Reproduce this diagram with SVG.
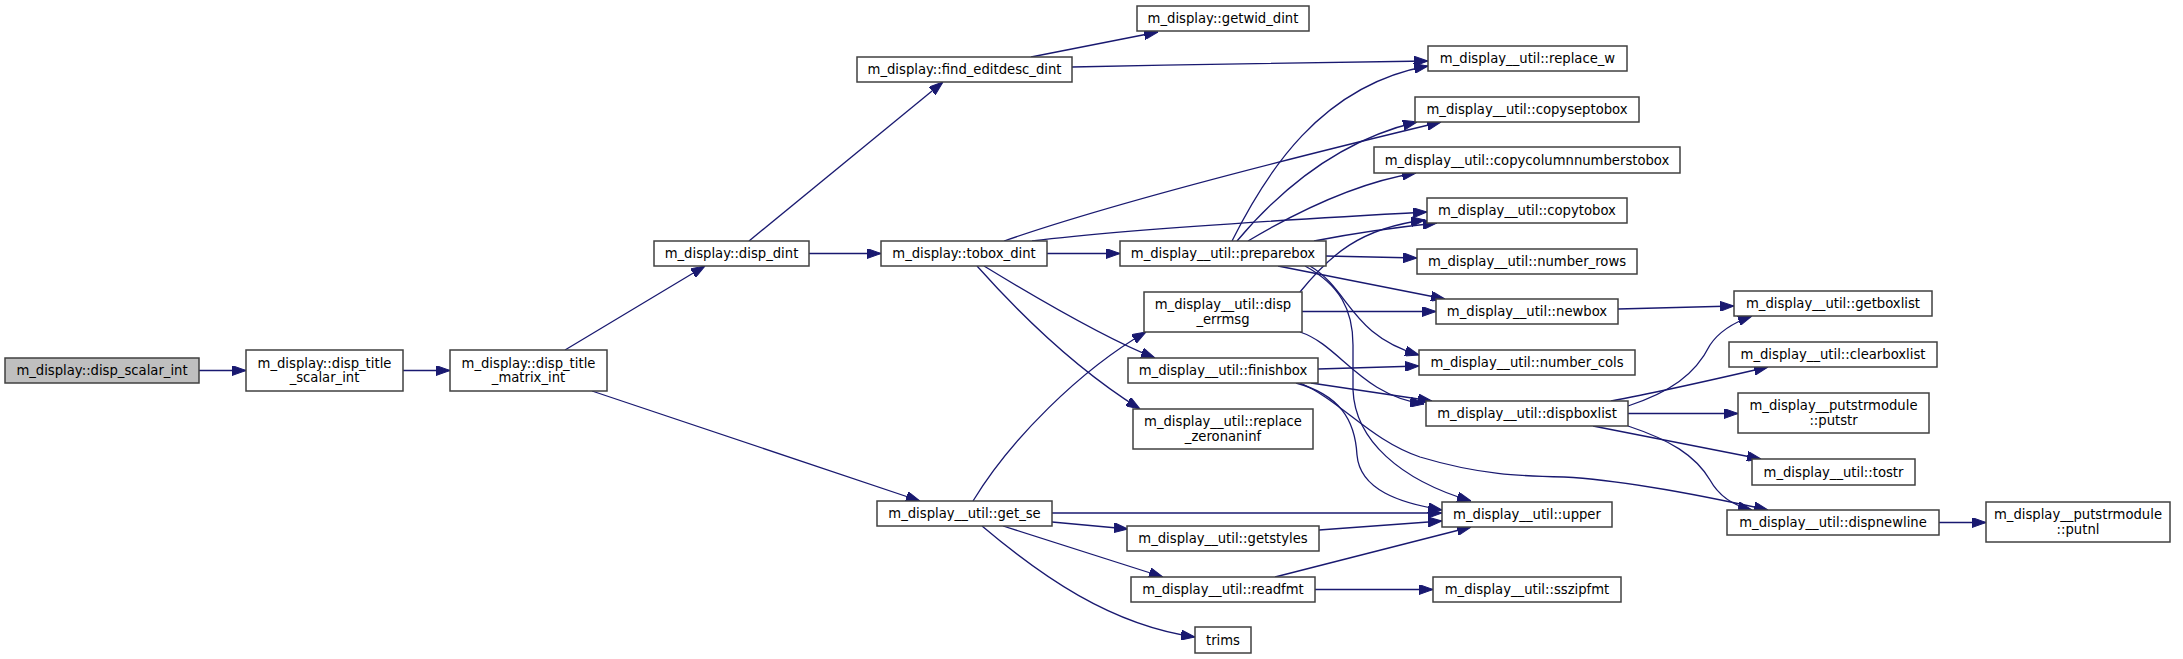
<svg xmlns="http://www.w3.org/2000/svg" width="2183" height="659" viewBox="0 0 2183 659">
<style>
.n rect{fill:#ffffff;stroke:#404040;stroke-width:1.5}
.n.root rect{fill:#bfbfbf}
.n text{font-family:"DejaVu Sans",sans-serif;font-size:13.2px;fill:#000;text-anchor:middle}
.e path{fill:none;stroke:#191970;stroke-width:1.3;marker-end:url(#ah)}
</style>
<defs>
<marker id="ah" markerUnits="userSpaceOnUse" markerWidth="14" markerHeight="10" refX="14" refY="5" orient="auto" viewBox="0 0 14 10">
<path d="M0,0 L14,5 L0,10 z" fill="#191970" stroke="#191970" stroke-width="1"/>
</marker>
</defs>
<rect width="2183" height="659" fill="#ffffff"/>
<g id="connectors" class="e">
<path d="M199,370.5 L246,370.5"/>
<path d="M403,370.5 L450,370.5"/>
<path d="M565,350 L705,266"/>
<path d="M592,391 L920,501"/>
<path d="M749,241 L943,82"/>
<path d="M809,253.5 L881,253.5"/>
<path d="M1031,57 L1158,32"/>
<path d="M1072,67 C1200,64 1350,62 1428,61"/>
<path d="M1047,253.5 L1120,253.5"/>
<path d="M1004,241 Q1133,196 1441,122"/>
<path d="M1032,241 Q1134,228 1427,212"/>
<path d="M984,266 Q1099,336 1155,358"/>
<path d="M977,266 Q1060,359 1140,409"/>
<path d="M1232,241 C1265,175 1320,85 1428,66"/>
<path d="M1237,241 C1280,190 1340,140 1417,122"/>
<path d="M1248,241 C1300,210 1360,182 1416,173"/>
<path d="M1314,241 Q1370,230 1437,223"/>
<path d="M1326,256 L1417,258"/>
<path d="M1278,266 L1445,299"/>
<path d="M1310,266 C1350,290 1350,335 1419,355"/>
<path d="M1305,266 C1340,285 1353,310 1353,345 L1353,390 C1355,440 1400,480 1471,501"/>
<path d="M1300,292 C1330,255 1360,228 1425,220"/>
<path d="M1302,311.5 L1436,311.5"/>
<path d="M1300,332 C1340,345 1360,395 1424,404"/>
<path d="M973,501 C1010,440 1080,370 1146,332"/>
<path d="M1318,369 L1419,366"/>
<path d="M1311,383 L1432,401"/>
<path d="M1296,383 C1340,395 1355,420 1357,455 C1360,490 1400,503 1442,510"/>
<path d="M1300,383 C1340,400 1370,440 1420,457 C1480,475 1520,476 1564,477 C1620,480 1700,495 1768,510"/>
<path d="M1052,513 L1442,513"/>
<path d="M1052,522 L1128,529"/>
<path d="M1003,526 L1163,577"/>
<path d="M982,526 C1040,575 1110,625 1195,637"/>
<path d="M1319,530 L1442,521"/>
<path d="M1275,577 L1471,527"/>
<path d="M1315,589.5 L1433,589.5"/>
<path d="M1618,309 L1734,306"/>
<path d="M1628,406 C1670,392 1695,375 1710,345 C1720,330 1735,322 1752,316"/>
<path d="M1611,401 Q1660,392 1768,367"/>
<path d="M1628,413.5 L1738,413.5"/>
<path d="M1593,426 L1761,459"/>
<path d="M1628,426 C1670,440 1695,455 1710,480 C1720,498 1735,506 1752,510"/>
<path d="M1939,522.5 L1986,522.5"/>
</g>
<g id="disp_scalar_int" class="n root"><rect x="5" y="358" width="194" height="25"/><text x="102" y="375">m_display::disp_scalar_int</text></g>
<g id="disp_title_scalar_int" class="n"><rect x="246" y="350" width="157" height="41"/><text x="324.5" y="367.5">m_display::disp_title</text><text x="324.5" y="382">_scalar_int</text></g>
<g id="disp_title_matrix_int" class="n"><rect x="450" y="350" width="157" height="41"/><text x="528.5" y="367.5">m_display::disp_title</text><text x="528.5" y="382">_matrix_int</text></g>
<g id="disp_dint" class="n"><rect x="654" y="241" width="155" height="25"/><text x="731.5" y="258">m_display::disp_dint</text></g>
<g id="find_editdesc_dint" class="n"><rect x="857" y="57" width="215" height="25"/><text x="964.5" y="74">m_display::find_editdesc_dint</text></g>
<g id="getwid_dint" class="n"><rect x="1137" y="6" width="172" height="25"/><text x="1223" y="23">m_display::getwid_dint</text></g>
<g id="tobox_dint" class="n"><rect x="881" y="241" width="166" height="25"/><text x="964" y="258">m_display::tobox_dint</text></g>
<g id="preparebox" class="n"><rect x="1120" y="241" width="206" height="25"/><text x="1223" y="258">m_display__util::preparebox</text></g>
<g id="replace_w" class="n"><rect x="1428" y="46" width="199" height="25"/><text x="1527.5" y="63">m_display__util::replace_w</text></g>
<g id="copyseptobox" class="n"><rect x="1415" y="97" width="224" height="25"/><text x="1527" y="114">m_display__util::copyseptobox</text></g>
<g id="copycolumnnumberstobox" class="n"><rect x="1374" y="147" width="306" height="26"/><text x="1527" y="164.5">m_display__util::copycolumnnumberstobox</text></g>
<g id="copytobox" class="n"><rect x="1427" y="198" width="200" height="25"/><text x="1527" y="215">m_display__util::copytobox</text></g>
<g id="number_rows" class="n"><rect x="1417" y="249" width="220" height="25"/><text x="1527" y="266">m_display__util::number_rows</text></g>
<g id="newbox" class="n"><rect x="1436" y="299" width="182" height="25"/><text x="1527" y="316">m_display__util::newbox</text></g>
<g id="disp_errmsg" class="n"><rect x="1144" y="292" width="158" height="40"/><text x="1223" y="309">m_display__util::disp</text><text x="1223" y="323.5">_errmsg</text></g>
<g id="finishbox" class="n"><rect x="1128" y="358" width="190" height="25"/><text x="1223" y="375">m_display__util::finishbox</text></g>
<g id="number_cols" class="n"><rect x="1419" y="350" width="216" height="25"/><text x="1527" y="367">m_display__util::number_cols</text></g>
<g id="replace_zeronaninf" class="n"><rect x="1133" y="409" width="180" height="40"/><text x="1223" y="426">m_display__util::replace</text><text x="1223" y="440.5">_zeronaninf</text></g>
<g id="dispboxlist" class="n"><rect x="1426" y="401" width="202" height="25"/><text x="1527" y="418">m_display__util::dispboxlist</text></g>
<g id="getboxlist" class="n"><rect x="1734" y="291" width="198" height="25"/><text x="1833" y="308">m_display__util::getboxlist</text></g>
<g id="clearboxlist" class="n"><rect x="1729" y="342" width="208" height="25"/><text x="1833" y="359">m_display__util::clearboxlist</text></g>
<g id="putstr" class="n"><rect x="1738" y="393" width="191" height="40"/><text x="1833.5" y="410">m_display__putstrmodule</text><text x="1833.5" y="424.5">::putstr</text></g>
<g id="tostr" class="n"><rect x="1752" y="459" width="163" height="26"/><text x="1833.5" y="476.5">m_display__util::tostr</text></g>
<g id="dispnewline" class="n"><rect x="1727" y="510" width="212" height="25"/><text x="1833" y="527">m_display__util::dispnewline</text></g>
<g id="putnl" class="n"><rect x="1986" y="502" width="184" height="40"/><text x="2078" y="519">m_display__putstrmodule</text><text x="2078" y="533.5">::putnl</text></g>
<g id="upper" class="n"><rect x="1442" y="502" width="170" height="25"/><text x="1527" y="519">m_display__util::upper</text></g>
<g id="get_se" class="n"><rect x="877" y="501" width="175" height="25"/><text x="964.5" y="518">m_display__util::get_se</text></g>
<g id="getstyles" class="n"><rect x="1127" y="526" width="192" height="25"/><text x="1223" y="543">m_display__util::getstyles</text></g>
<g id="readfmt" class="n"><rect x="1131" y="577" width="184" height="25"/><text x="1223" y="594">m_display__util::readfmt</text></g>
<g id="sszipfmt" class="n"><rect x="1433" y="577" width="188" height="25"/><text x="1527" y="594">m_display__util::sszipfmt</text></g>
<g id="trims" class="n"><rect x="1195" y="627" width="56" height="26"/><text x="1223" y="644.5">trims</text></g>
</svg>
